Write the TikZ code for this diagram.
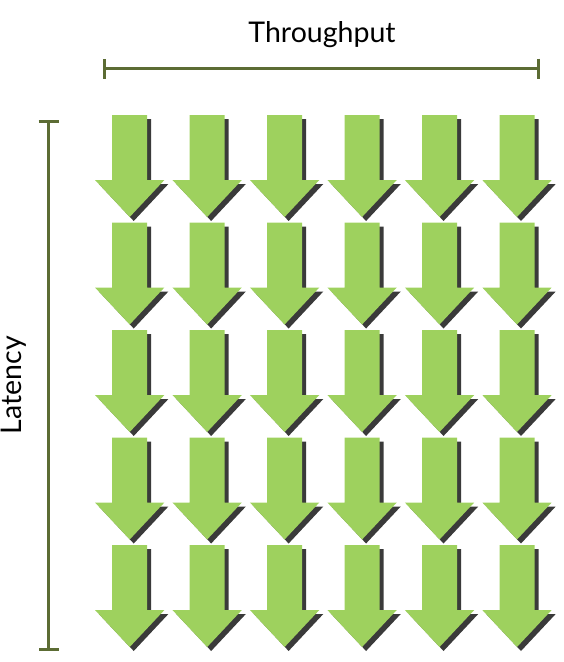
\documentclass[tikz,border=0pt]{standalone}
\usepackage{fontspec}
\setmainfont{Lato}
\usetikzlibrary{arrows.meta,positioning}
\definecolor{barolive}{RGB}{92,108,52}
\definecolor{arrowgreen}{RGB}{158,209,94}
\definecolor{arrowshade}{RGB}{58,58,58}
\tikzset{
  downarrow/.pic={
    \fill[arrowshade,shift={(4,4)}] (-17.5,0) -- (17.5,0) -- (17.5,65) -- (34.7,65) -- (0,102) -- (-34.7,65) -- (-17.5,65) -- cycle;
    \fill[arrowgreen] (-17.5,0) -- (17.5,0) -- (17.5,65) -- (34.7,65) -- (0,102) -- (-34.7,65) -- (-17.5,65) -- cycle;
  }
}

\begin{document}
\begin{tikzpicture}[x=1pt,y=-1pt,
  barline/.style={draw=barolive, line width=3pt, {Bar[width=20pt]}-{Bar[width=20pt]}},
  every node/.style={font=\fontsize{28.5}{32}\selectfont}]
\useasboundingbox (0,0) rectangle (564,662);
% axes
\coordinate (tpstart) at (103,68.5);
\coordinate (tpend) at (540,68.5);
\coordinate (latstart) at (48.5,120);
\coordinate (latend) at (48.5,651);
\draw[barline] (tpstart) -- (tpend);
\draw[barline] (latstart) -- (latend);
\node (throughput) at (322,35) {Throughput};
\node[rotate=90] (latency) at (14,385) {Latency};
% grid of arrows
\foreach \row in {0,...,4}
  \foreach \col in {0,...,5}
    \pic at ({129.7+77.46*\col},{115+107.5*\row}) {downarrow};
\end{tikzpicture}
\end{document}
